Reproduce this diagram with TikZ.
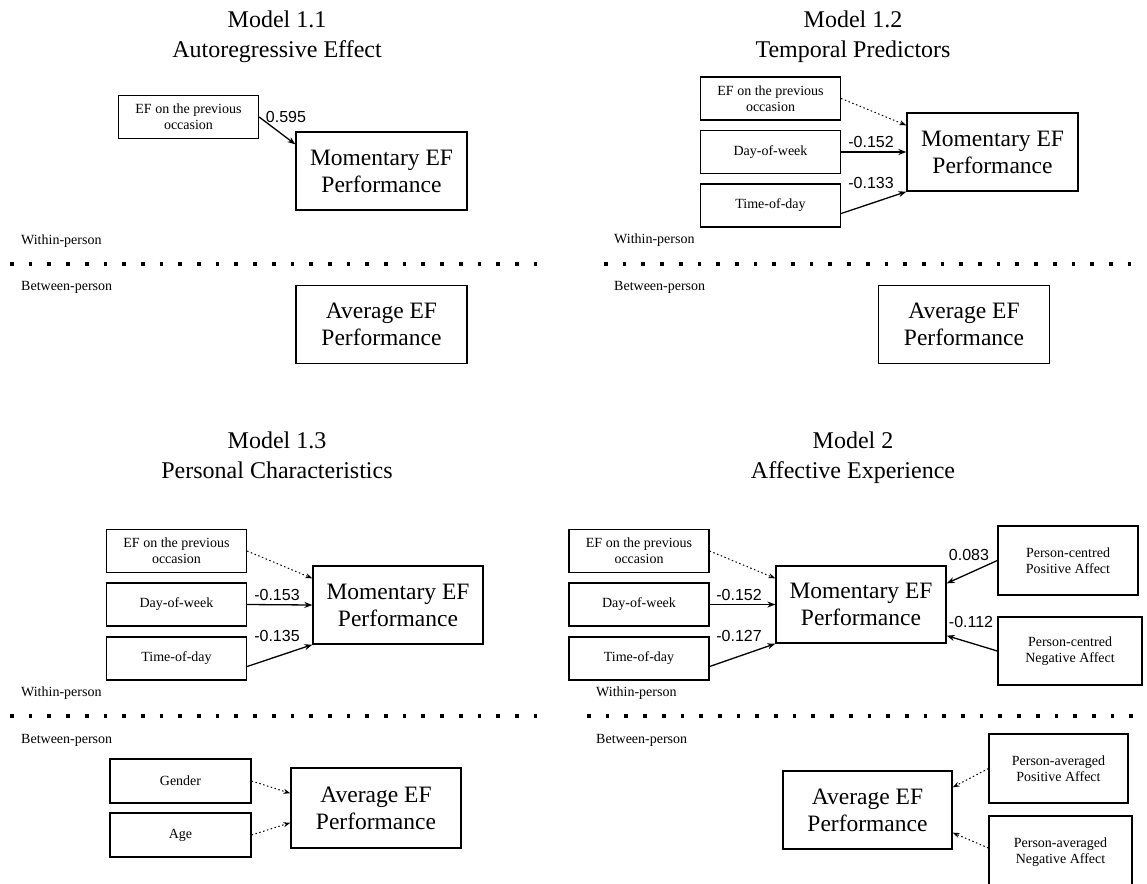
\documentclass[tikz,border=0pt]{standalone}
\usepackage{fontspec}
\setmainfont{Liberation Serif}
\newfontfamily\labfont{Liberation Sans}
\usetikzlibrary{arrows.meta}
\begin{document}
\begin{tikzpicture}[x=1pt,y=-1pt,
  smallbox/.style={draw, line width=1.3pt, minimum width=140pt, minimum height=43pt, inner sep=0pt, align=center, font=\fontsize{14}{16}\selectfont},
  bigbox/.style={draw, line width=1.3pt, minimum width=171pt, minimum height=78pt, inner sep=0pt, align=center, font=\fontsize{23.5}{27}\selectfont},
  ttl/.style={anchor=base, inner sep=0pt, font=\fontsize{24}{30}\selectfont},
  lvl/.style={anchor=west, inner sep=0pt, font=\fontsize{14}{16}\selectfont},
  coef/.style={inner sep=0pt, font=\labfont\fontsize{16}{19}\selectfont},
  sep/.style={line width=3.7pt, dash pattern=on 3.7pt off 15pt},
  solidarr/.style={line width=1.3pt, -{Stealth[length=8pt,width=6pt]}},
  dotarr/.style={line width=1pt, dash pattern=on 1.5pt off 2.5pt, -{Stealth[length=7pt,width=5pt]}}
]
\clip (0,0) rectangle (1147,883);
\fill[white] (0,0) rectangle (1147,883);

% ---------------- Panel 1 ----------------
\node[ttl] (t1a) at (277,28) {Model 1.1};
\node[ttl] (t1b) at (277,58) {Autoregressive Effect};
\node[smallbox] (e1) at (188.5,117) {EF on the previous\\occasion};
\node[bigbox] (m1) at (381.5,171) {Momentary EF\\Performance};
\node[bigbox] (a1) at (381.5,324.5) {Average EF\\Performance};
\node[lvl] (w1) at (21,241) {Within-person};
\node[lvl] (b1) at (21,287) {Between-person};
\coordinate (s1a) at (10,264);
\coordinate (s1b) at (541,264);
\draw[sep] (s1a) -- (s1b);
\draw[solidarr] (e1.east) -- ([yshift=-13pt]m1.north west);
\node[coef] (c1) at (286,117) {0.595};

% ---------------- Panel 2 ----------------
\node[ttl] (t2a) at (853,28) {Model 1.2};
\node[ttl] (t2b) at (853,58) {Temporal Predictors};
\node[smallbox] (e2) at (770.5,98.5) {EF on the previous\\occasion};
\node[smallbox] (d2) at (770.5,152) {Day-of-week};
\node[smallbox] (tm2) at (770.5,205.5) {Time-of-day};
\node[bigbox] (m2) at (992.5,152) {Momentary EF\\Performance};
\node[bigbox] (a2) at (964,324.5) {Average EF\\Performance};
\node[lvl] (w2) at (614,240) {Within-person};
\node[lvl] (b2) at (614,287) {Between-person};
\coordinate (s2a) at (604,264);
\coordinate (s2b) at (1135,264);
\draw[sep] (s2a) -- (s2b);
\draw[dotarr] (e2.east) -- ([yshift=-13pt]m2.north west);
\draw[solidarr] (d2.east) -- (m2.west);
\draw[solidarr] ([yshift=-8pt]tm2.east) -- (m2.south west);
\node[coef] (c2a) at (871,142) {-0.152};
\node[coef] (c2b) at (871,183) {-0.133};

% ---------------- Panel 3 ----------------
\node[ttl] (t3a) at (277,448) {Model 1.3};
\node[ttl] (t3b) at (277,478) {Personal Characteristics};
\node[smallbox] (e3) at (176.5,551) {EF on the previous\\occasion};
\node[smallbox] (d3) at (176.5,604.5) {Day-of-week};
\node[smallbox] (tm3) at (176.5,658.5) {Time-of-day};
\node[bigbox, minimum width=170pt] (m3) at (398,605) {Momentary EF\\Performance};
\node[smallbox, minimum width=141pt, minimum height=44pt] (g3) at (180.5,781) {Gender};
\node[smallbox, minimum width=141pt, minimum height=44pt] (ag3) at (180.5,835) {Age};
\node[bigbox, minimum width=170pt, minimum height=80pt] (a3) at (376,808) {Average EF\\Performance};
\node[lvl] (w3) at (21,693) {Within-person};
\node[lvl] (b3) at (21,740) {Between-person};
\coordinate (s3a) at (10,716);
\coordinate (s3b) at (541,716);
\draw[sep] (s3a) -- (s3b);
\draw[dotarr] (e3.east) -- ([yshift=-13pt]m3.north west);
\draw[solidarr] (d3.east) -- (m3.west);
\draw[solidarr] ([yshift=-8pt]tm3.east) -- (m3.south west);
\draw[dotarr] (g3.east) -- ([yshift=-26pt]a3.north west);
\draw[dotarr] (ag3.east) -- ([yshift=26pt]a3.south west);
\node[coef] (c3a) at (277,595) {-0.153};
\node[coef] (c3b) at (277,636) {-0.135};

% ---------------- Panel 4 ----------------
\node[ttl] (t4a) at (853,448) {Model 2};
\node[ttl] (t4b) at (853,478) {Affective Experience};
\node[smallbox] (e4) at (639,551) {EF on the previous\\occasion};
\node[smallbox] (d4) at (639,604.5) {Day-of-week};
\node[smallbox] (tm4) at (639,658.5) {Time-of-day};
\node[bigbox, minimum width=170pt, minimum height=77pt] (m4) at (861,604.5) {Momentary EF\\Performance};
\node[smallbox, minimum width=140pt, minimum height=69pt] (pc) at (1068,560.5) {Person-centred\\Positive Affect};
\node[smallbox, minimum width=144pt, minimum height=68pt] (nc) at (1070,651) {Person-centred\\Negative Affect};
\node[bigbox, minimum width=169pt] (a4) at (867.5,810) {Average EF\\Performance};
\node[smallbox, minimum width=139pt, minimum height=69pt] (pa) at (1058.5,768.5) {Person-averaged\\Positive Affect};
\node[smallbox, minimum width=143pt, minimum height=72pt] (na) at (1060.5,852) {Person-averaged\\Negative Affect};
\node[lvl] (w4) at (596,693) {Within-person};
\node[lvl] (b4) at (596,740) {Between-person};
\coordinate (s4a) at (587,716);
\coordinate (s4b) at (1137,716);
\draw[sep] (s4a) -- (s4b);
\draw[dotarr] (e4.east) -- ([yshift=-13pt]m4.north west);
\draw[solidarr] (d4.east) -- (m4.west);
\draw[solidarr] ([yshift=-8pt]tm4.east) -- (m4.south west);
\draw[solidarr] (pc.west) -- ([yshift=-18pt]m4.north east);
\draw[solidarr] (nc.west) -- ([yshift=8pt]m4.south east);
\draw[dotarr] (pa.west) -- ([yshift=-17pt]a4.north east);
\draw[dotarr] ([yshift=4pt]na.west) -- ([yshift=17pt]a4.south east);
\node[coef] (c4a) at (739,595) {-0.152};
\node[coef] (c4b) at (739,636) {-0.127};
\node[coef] (c4c) at (969,555) {0.083};
\node[coef] (c4d) at (971,622) {-0.112};
\end{tikzpicture}
\end{document}
